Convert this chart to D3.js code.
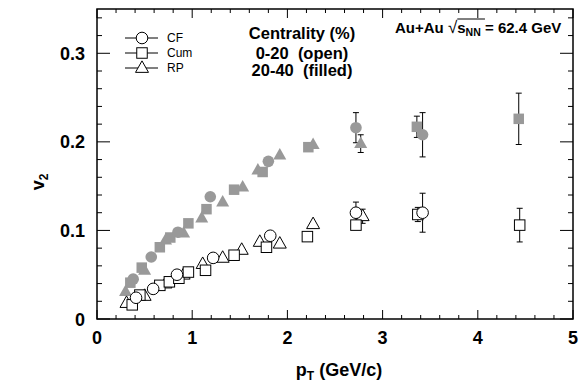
<!DOCTYPE html>
<html>
<head>
<meta charset="utf-8">
<script src="https://cdn.jsdelivr.net/npm/d3@7"></script>
<style>
  body { margin: 0; background: #fff; overflow: hidden; }
  svg { font-family: "Liberation Sans", Arial, Helvetica, sans-serif; display: block; }
</style>
</head>
<body>
<svg id="svg1" width="581" height="383"></svg>
<script>
// ---- data: [pT, v2, err] ----
// 0-20% (open markers)
cfOpen  = [[0.41,0.024,0],[0.59,0.034,0],[0.84,0.050,0],[1.22,0.069,0],[1.82,0.094,0],[2.72,0.120,0.012],[3.42,0.120,0.022]];
cumOpen = [[0.37,0.016,0],[0.45,0.027,0],[0.66,0.038,0],[0.76,0.042,0],[0.86,0.046,0],[0.96,0.053,0],[1.14,0.055,0],[1.44,0.072,0],[1.78,0.081,0],[2.21,0.093,0],[2.72,0.106,0],[3.37,0.118,0.008],[4.44,0.106,0.019]];
rpOpen  = [[0.31,0.018,0],[0.50,0.026,0],[0.72,0.040,0],[0.91,0.050,0],[1.11,0.062,0],[1.32,0.069,0],[1.52,0.078,0],[1.71,0.087,0],[1.92,0.085,0],[2.27,0.107,0],[2.79,0.116,0.008]];
// 20-40% (filled markers)
cfFill  = [[0.38,0.045,0],[0.57,0.070,0],[0.85,0.098,0],[1.19,0.138,0],[1.80,0.178,0],[2.72,0.216,0.017],[3.42,0.208,0.025]];
cumFill = [[0.35,0.041,0],[0.47,0.058,0],[0.66,0.081,0],[0.77,0.092,0],[0.96,0.108,0],[1.15,0.124,0],[1.44,0.146,0],[1.74,0.166,0],[2.22,0.194,0],[3.36,0.217,0.012],[4.43,0.226,0.029]];
rpFill  = [[0.30,0.031,0],[0.50,0.055,0],[0.72,0.089,0],[0.91,0.097,0],[1.10,0.114,0],[1.32,0.132,0],[1.53,0.149,0],[1.69,0.168,0],[1.92,0.185,0],[2.27,0.197,0],[2.77,0.198,0.010]];

xTicks = [0,1,2,3,4,5];
yTicks = [0,0.1,0.2,0.3];
legendNames = ['CF','Cum','RP'];

margin = { top: 9, right: 8, bottom: 64, left: 97 };
grey = '#999999';

document.addEventListener('DOMContentLoaded', function() {
  svg = d3.select('#svg1');
  svgW = +svg.attr('width');
  svgH = +svg.attr('height');
  plotW = svgW - margin.left - margin.right;
  plotH = svgH - margin.top - margin.bottom;
  drawChart();
});

function marker(g, shape, x, y, filled) {
  var fill = filled ? grey : 'white';
  var stroke = filled ? 'none' : 'black';
  if (shape == 'circle') {
    g.append('circle').attr('cx', x).attr('cy', y).attr('r', 5.8)
      .style('fill', fill).style('stroke', stroke).style('stroke-width', 1);
  } else if (shape == 'square') {
    var s = 10.5;
    g.append('rect').attr('x', x - s/2).attr('y', y - s/2).attr('width', s).attr('height', s)
      .style('fill', fill).style('stroke', stroke).style('stroke-width', 1);
  } else {
    var h = 11.5, w = 13;
    g.append('path')
      .attr('d', `M${x},${y - h*0.62}L${x + w/2},${y + h*0.38}L${x - w/2},${y + h*0.38}Z`)
      .style('fill', fill).style('stroke', stroke).style('stroke-width', 1);
  }
}

function drawChart() {
  var xScale = d3.scaleLinear().domain([0,5]).range([0, plotW]);
  var yScale = d3.scaleLinear().domain([0,0.35]).range([plotH, 0]);

  g = svg.append('g').attr('transform', `translate(${margin.left},${margin.top})`);

  // ticks (inside, all four sides)
  var xMinor = d3.range(0, 5.001, 0.2);
  var yMinor = d3.range(0, 0.3501, 0.02);
  var ticks = g.append('g').style('stroke', 'black').style('stroke-width', 1);
  xMinor.forEach(function(v) {
    var major = Math.abs(v - Math.round(v)) < 1e-6;
    var len = major ? 9 : 4;
    var x = xScale(v);
    ticks.append('line').attr('x1', x).attr('x2', x).attr('y1', plotH).attr('y2', plotH - len);
    ticks.append('line').attr('x1', x).attr('x2', x).attr('y1', 0).attr('y2', len);
  });
  yMinor.forEach(function(v) {
    var major = Math.abs(v*10 - Math.round(v*10)) < 1e-6;
    var len = major ? 13 : 5;
    var y = yScale(v);
    ticks.append('line').attr('y1', y).attr('y2', y).attr('x1', 0).attr('x2', len);
    ticks.append('line').attr('y1', y).attr('y2', y).attr('x1', plotW).attr('x2', plotW - len);
  });

  // frame
  g.append('rect').attr('x', 0).attr('y', 0).attr('width', plotW).attr('height', plotH)
    .style('fill', 'none').style('stroke', 'black').style('stroke-width', 1.5);

  // tick labels
  g.selectAll('.xlab').data(xTicks).enter().append('text')
    .attr('x', d => xScale(d)).attr('y', plotH + 25)
    .attr('text-anchor', 'middle').style('font-size', '18px').style('font-weight', 'bold')
    .text(d => d);
  g.selectAll('.ylab').data(yTicks).enter().append('text')
    .attr('x', -12).attr('y', d => yScale(d) + 6.5)
    .attr('text-anchor', 'end').style('font-size', '18px').style('font-weight', 'bold')
    .text(d => d);

  // axis titles
  var xt = g.append('text').attr('x', plotW/2 + 4).attr('y', plotH + 57)
    .attr('text-anchor', 'middle').style('font-size', '18px').style('font-weight', 'bold');
  xt.append('tspan').text('p');
  xt.append('tspan').attr('dy', 4).style('font-size', '12px').text('T');
  xt.append('tspan').attr('dy', -4).text(' (GeV/c)');

  var yt = g.append('text').attr('transform', `translate(-53,173) rotate(-90)`)
    .attr('text-anchor', 'middle').style('font-size', '18px').style('font-weight', 'bold');
  yt.append('tspan').text('v');
  yt.append('tspan').attr('dy', 4).style('font-size', '12px').text('2');

  // data: error bars then markers
  var sets = [
    [rpFill, 'triangle', true], [cumFill, 'square', true], [cfFill, 'circle', true],
    [rpOpen, 'triangle', false], [cumOpen, 'square', false], [cfOpen, 'circle', false]
  ];
  var eb = g.append('g').style('stroke', 'black').style('stroke-width', 1);
  sets.forEach(function(s) {
    s[0].forEach(function(d) {
      if (d[2] > 0) {
        var x = xScale(d[0]);
        eb.append('line').attr('x1', x).attr('x2', x).attr('y1', yScale(d[1] - d[2])).attr('y2', yScale(d[1] + d[2]));
        eb.append('line').attr('x1', x - 3).attr('x2', x + 3).attr('y1', yScale(d[1] - d[2])).attr('y2', yScale(d[1] - d[2]));
        eb.append('line').attr('x1', x - 3).attr('x2', x + 3).attr('y1', yScale(d[1] + d[2])).attr('y2', yScale(d[1] + d[2]));
      }
    });
  });
  var mk = g.append('g');
  sets.forEach(function(s) {
    s[0].forEach(function(d) {
      marker(mk, s[1], xScale(d[0]), yScale(d[1]), s[2]);
    });
  });

  // legend
  var shapes = ['circle','square','triangle'];
  legendNames.forEach(function(name, i) {
    var y = 29 + i*15;
    g.append('line').attr('x1', 28).attr('x2', 61).attr('y1', y).attr('y2', y)
      .style('stroke', 'black').style('stroke-width', 1);
    marker(g, shapes[i], 45, y, false);
    g.append('text').attr('x', 70).attr('y', y + 4).style('font-size', '12px').text(name);
  });

  // centrality text
  var ctext = ['Centrality (%)', '0-20  (open)', '20-40  (filled)'];
  var cy = [30, 50, 67];
  ctext.forEach(function(t, i) {
    g.append('text').attr('x', 205).attr('y', cy[i])
      .attr('text-anchor', 'middle').style('font-size', '16.5px').style('font-weight', 'bold')
      .style('white-space', 'pre').text(t);
  });

  // energy label
  var el = g.append('text').attr('x', 298).attr('y', 24).style('font-size', '15px').style('font-weight', 'bold');
  el.append('tspan').text('Au+Au ');
  el.append('tspan').style('font-weight', 'normal').style('font-size', '17px').text('\u221A');
  el.append('tspan').text('s');
  el.append('tspan').attr('dy', 3).style('font-size', '10.5px').text('NN');
  el.append('tspan').attr('dy', -3).text(' = 62.4 GeV');
  // overline of the root sign
  var tn = el.node();
  var x0 = tn.getStartPositionOfChar(7).x;
  var x1 = tn.getEndPositionOfChar(10).x;
  g.append('line').attr('x1', x0).attr('x2', x1).attr('y1', 10).attr('y2', 10)
    .style('stroke', 'black').style('stroke-width', 1);
}
</script>
</body>
</html>
